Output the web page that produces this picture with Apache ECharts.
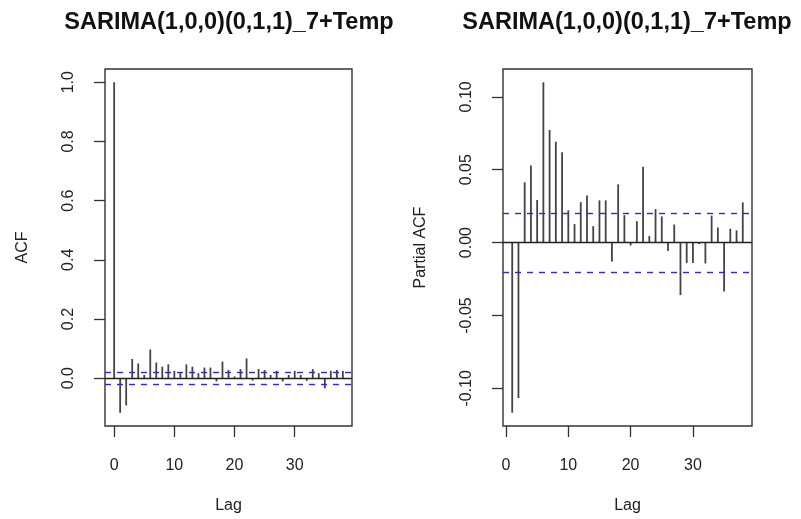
<!DOCTYPE html>
<html>
<head>
<meta charset="utf-8">
<script src="https://cdn.jsdelivr.net/npm/echarts@6/dist/echarts.min.js"></script>
<style>html,body{margin:0;padding:0;background:#fff;}#c{width:801px;height:519px;}</style>
</head>
<body>
<div id="c"></div>
<script>
// ---- data ----
const titleText = 'SARIMA(1,0,0)(0,1,1)_7+Temp';
const acfLags = [0,1,2,3,4,5,6,7,8,9,10,11,12,13,14,15,16,17,18,19,20,21,22,23,24,25,26,27,28,29,30,31,32,33,34,35,36,37,38];
const acfValues = [1.0,-0.117,-0.092,0.065,0.050,0.011,0.097,0.053,0.039,0.047,0.025,0.017,0.047,0.039,0.017,0.036,0.036,-0.011,0.056,0.028,0.006,0.031,0.067,-0.008,0.031,0.028,0.011,0.025,-0.011,0.011,0.025,0.011,-0.009,0.031,0.017,-0.034,0.025,0.028,0.025];
const pacfLags = [1,2,3,4,5,6,7,8,9,10,11,12,13,14,15,16,17,18,19,20,21,22,23,24,25,26,27,28,29,30,31,32,33,34,35,36,37,38];
const pacfValues = [-0.1167,-0.1067,0.0414,0.0529,0.0292,0.110,0.0773,0.0692,0.062,0.0222,0.0127,0.0278,0.0323,0.0113,0.029,0.029,-0.0129,0.040,0.0188,-0.002,0.0147,0.052,0.0045,0.023,0.018,-0.0057,0.0124,-0.036,-0.014,-0.014,-0.001,-0.0143,0.0185,0.0104,-0.0335,0.0095,0.0084,0.0276];
const ciBound = 0.0225;
const xTicks = [0,10,20,30];
const acfYTicks = [0,0.2,0.4,0.6,0.8,1.0];
const pacfYTicks = [-0.10,-0.05,0,0.05,0.10];
const acfYLabel = 'ACF';
const pacfYLabel = 'Partial ACF';
const xLabel = 'Lag';

// ---- chart ----
const FONT = '"Liberation Sans", Arial, Helvetica, sans-serif';
const chart = echarts.init(document.getElementById('c'), null, {renderer:'canvas'});

function barItem(params, api){
  const x = api.value(0), y = api.value(1);
  const p0 = api.coord([x,0]);
  const p1 = api.coord([x,y]);
  return {type:'line', shape:{x1:p0[0],y1:p0[1],x2:p1[0],y2:p1[1]}, style:{stroke:'#444', lineWidth:1.8}};
}
function xAxisCfg(idx, min, max){
  return {
    type:'value', gridIndex:idx, min:min, max:max,
    name:xLabel, nameLocation:'middle', nameGap:72,
    nameTextStyle:{fontFamily:FONT, fontSize:16, color:'#222'},
    axisLine:{show:false, onZero:false},
    axisTick:{show:true, inside:false, customValues:xTicks, length:11, lineStyle:{color:'#333', width:1.3}},
    axisLabel:{customValues:xTicks, margin:32, fontFamily:FONT, fontSize:16, color:'#222'},
    splitLine:{show:false}
  };
}
function yAxisCfg(idx, min, max, ticks, digits, name){
  return {
    type:'value', gridIndex:idx, min:min, max:max,
    name:name, nameLocation:'middle', nameGap:74, nameRotate:90,
    nameTextStyle:{fontFamily:FONT, fontSize:16, color:'#222'},
    axisLine:{show:false, onZero:false},
    axisTick:{show:true, inside:false, customValues:ticks, length:11, lineStyle:{color:'#333', width:1.3}},
    axisLabel:{customValues:ticks, rotate:90, margin:28, fontFamily:FONT, fontSize:16, color:'#222',
      formatter:function(v){ return v.toFixed(digits); }},
    splitLine:{show:false}
  };
}
function refLines(){
  return {
    silent:true, symbol:['none','none'], label:{show:false}, animation:false,
    data:[
      {yAxis:0, lineStyle:{color:'#222', type:'solid', width:1.4}},
      {yAxis:ciBound, lineStyle:{color:'#2b2bd0', type:[6,6], width:1.4}},
      {yAxis:-ciBound, lineStyle:{color:'#2b2bd0', type:[6,6], width:1.4}}
    ]
  };
}

chart.setOption({
  animation:false,
  backgroundColor:'#fff',
  title:[
    {text:titleText, left:224, top:6, textAlign:'center', textStyle:{fontFamily:FONT, fontWeight:'bold', fontSize:23.5, color:'#111'}},
    {text:titleText, left:622, top:6, textAlign:'center', textStyle:{fontFamily:FONT, fontWeight:'bold', fontSize:23.5, color:'#111'}}
  ],
  grid:[
    {left:105, width:247, top:69, height:359, show:true, borderColor:'#333', borderWidth:1.4, backgroundColor:'transparent'},
    {left:503, width:249, top:69, height:359, show:true, borderColor:'#333', borderWidth:1.4, backgroundColor:'transparent'}
  ],
  xAxis:[ xAxisCfg(0, -1.52, 39.52), xAxisCfg(1, -0.48, 39.48) ],
  yAxis:[
    yAxisCfg(0, -0.1614, 1.0447, acfYTicks, 1, acfYLabel),
    yAxisCfg(1, -0.1258, 0.1191, pacfYTicks, 2, pacfYLabel)
  ],
  series:[
    {type:'custom', xAxisIndex:0, yAxisIndex:0, renderItem:barItem,
     data:acfLags.map((l,i)=>[l, acfValues[i]]), markLine:refLines(), z:3},
    {type:'custom', xAxisIndex:1, yAxisIndex:1, renderItem:barItem,
     data:pacfLags.map((l,i)=>[l, pacfValues[i]]), markLine:refLines(), z:3}
  ]
});
</script>
</body>
</html>
